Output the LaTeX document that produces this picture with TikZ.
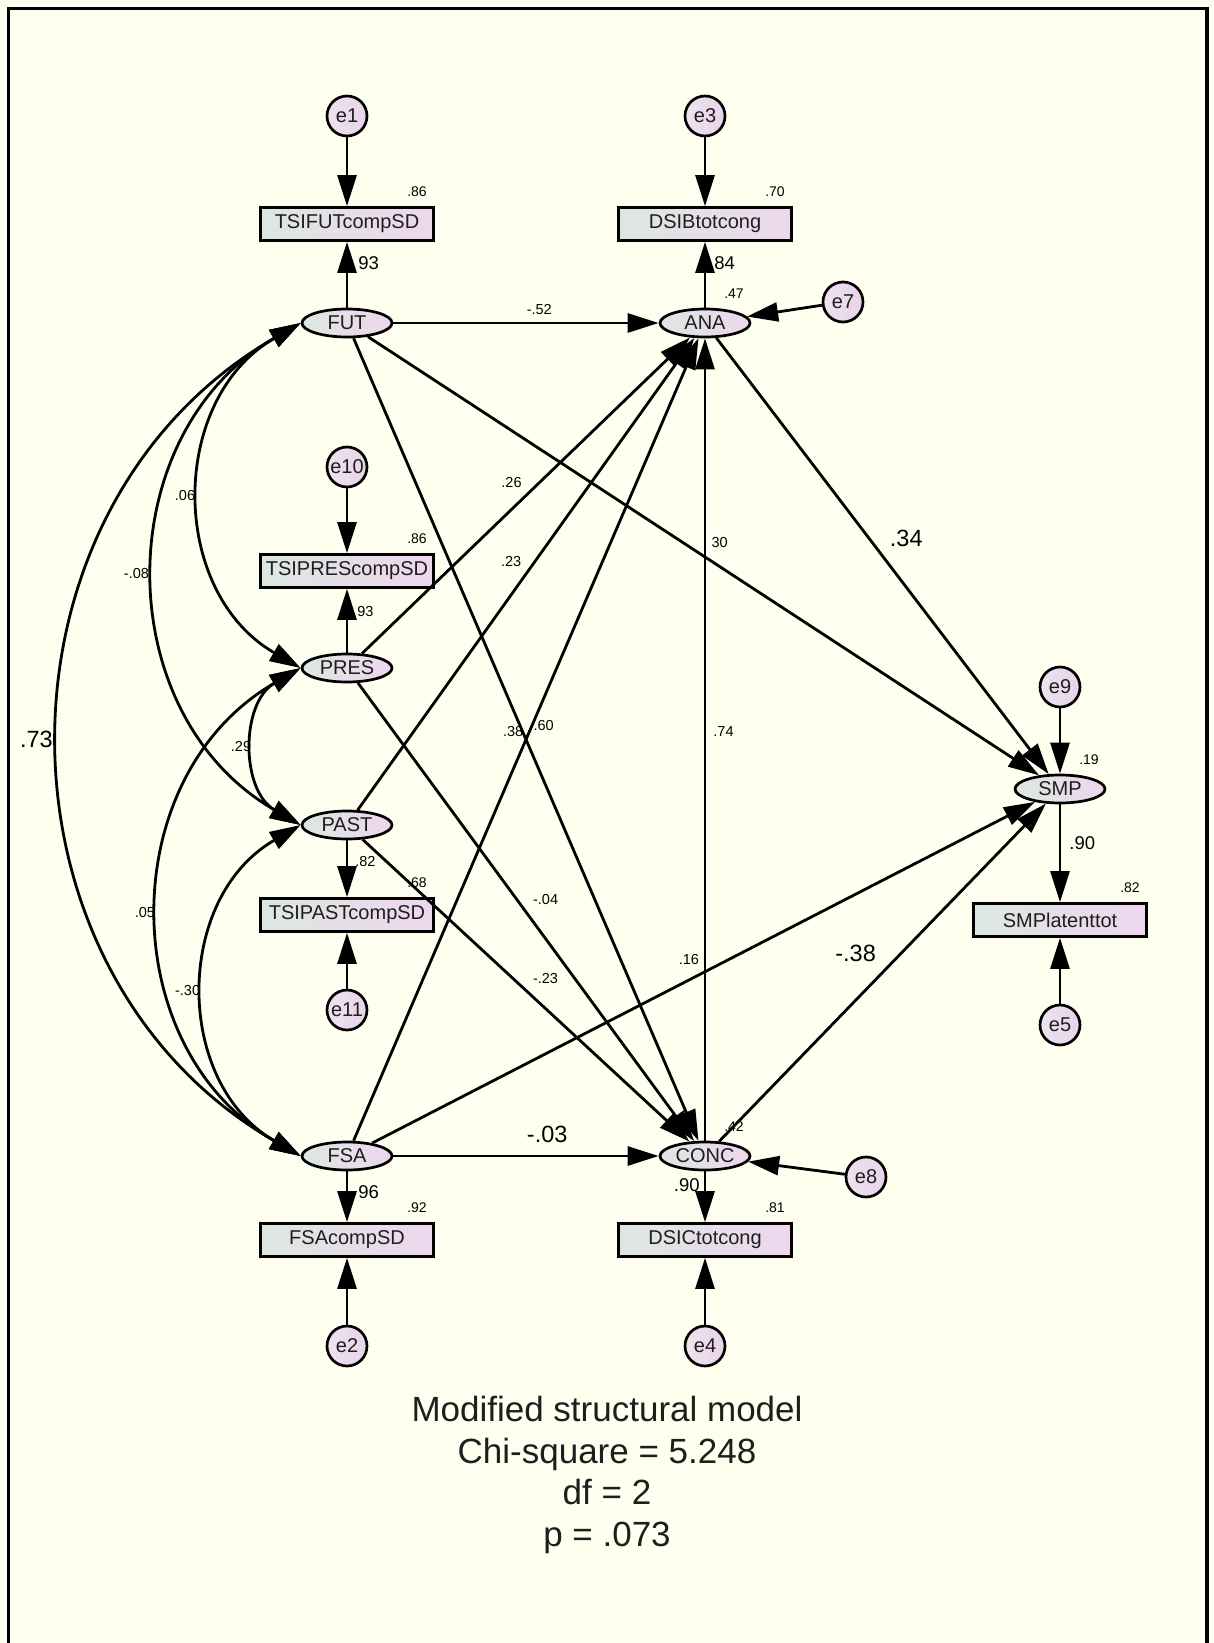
\documentclass[tikz,border=0pt]{standalone}
\usepackage{fontspec}
\setmainfont{Liberation Sans}
\usepackage{tikz}
\usetikzlibrary{positioning,arrows.meta,shapes.geometric}
\usepackage{xcolor}

\definecolor{paper}{RGB}{255,255,240}
\definecolor{boxL}{RGB}{221,231,225}
\definecolor{boxR}{RGB}{238,214,237}
\definecolor{errL}{RGB}{237,227,237}
\definecolor{errR}{RGB}{233,211,233}
\definecolor{ink}{RGB}{30,30,30}

\begin{document}
\begin{tikzpicture}[
  x=1pt, y=-1pt,
  >={Triangle[length=31pt,width=19pt]},
  lat/.style={draw, ellipse, line width=2.7pt, left color=boxL, right color=boxR,
              minimum width=90pt, minimum height=28pt, inner sep=0pt,
              font=\fontsize{20}{24}\selectfont, text=ink},
  obs/.style={draw, rectangle, line width=2.7pt, left color=boxL, right color=boxR,
              minimum width=173pt, minimum height=33pt, inner sep=0pt,
              font=\fontsize{20}{24}\selectfont, text=ink},
  err/.style={draw, circle, line width=2.7pt, left color=errL, right color=errR,
              minimum size=40pt, inner sep=0pt,
              font=\fontsize{20}{24}\selectfont, text=ink},
  arr/.style={->, line width=2.8pt},
  cov/.style={<->, line width=2.8pt, bend right=60, looseness=1.135},
  lbl/.style={font=\fontsize{14.5}{16}\selectfont, inner sep=1pt},
  lblm/.style={font=\fontsize{18.5}{21}\selectfont, inner sep=1pt},
  lblb/.style={font=\fontsize{23.5}{27}\selectfont, inner sep=1pt},
  r2box/.style={font=\fontsize{14}{16}\selectfont, inner sep=1pt, anchor=south,
                xshift=70pt, yshift=8pt},
  r2lat/.style={font=\fontsize{14}{16}\selectfont, inner sep=1pt, anchor=south,
                xshift=29pt, yshift=8pt},
]

\useasboundingbox (0,0) rectangle (1213,1643);
\fill[paper] (0,0) rectangle (1213,1643);
\draw[line width=3.2pt] (8.5,1660) -- (8.5,8.5) -- (1207,8.5) -- (1207,1660);

%% Latent variables
\node[lat] (FUT)  at (347,323)  {FUT};
\node[lat] (PRES) at (347,668)  {PRES};
\node[lat] (PAST) at (347,825)  {PAST};
\node[lat] (FSA)  at (347,1156) {FSA};
\node[lat, label={[r2lat]north:.47}] (ANA)  at (705,323)  {ANA};
\node[lat, label={[r2lat]north:.42}] (CONC) at (705,1156) {CONC};
\node[lat, label={[r2lat]north:.19}] (SMP)  at (1060,789) {SMP};

%% Indicators
\node[obs, label={[r2box]north:.86}] (TSIFUT)  at (347,224)  {TSIFUTcompSD};
\node[obs, label={[r2box]north:.86}] (TSIPRES) at (347,571)  {TSIPREScompSD};
\node[obs, label={[r2box]north:.68}] (TSIPAST) at (347,915)  {TSIPASTcompSD};
\node[obs, label={[r2box]north:.92}] (FSAcomp) at (347,1240) {FSAcompSD};
\node[obs, label={[r2box]north:.70}] (DSIB)    at (705,224)  {DSIBtotcong};
\node[obs, label={[r2box]north:.81}] (DSIC)    at (705,1240) {DSICtotcong};
\node[obs, label={[r2box]north:.82}] (SMPlat)  at (1060,920) {SMPlatenttot};

%% Error terms
\node[err] (e1)  at (347,116)  {e1};
\node[err] (e10) at (347,467)  {e10};
\node[err] (e11) at (347,1010) {e11};
\node[err] (e2)  at (347,1346) {e2};
\node[err] (e3)  at (705,116)  {e3};
\node[err] (e4)  at (705,1346) {e4};
\node[err] (e7)  at (843,302)  {e7};
\node[err] (e8)  at (866,1177) {e8};
\node[err] (e9)  at (1060,687) {e9};
\node[err] (e5)  at (1060,1025) {e5};

%% Measurement part
\draw[arr] (e1) -- (TSIFUT);
\draw[arr] (FUT) -- node[lblm, pos=0.68, right=9pt] {93} (TSIFUT);
\draw[arr] (e10) -- (TSIPRES);
\draw[arr] (PRES) -- node[lbl, pos=0.64, right=8pt] {93} (TSIPRES);
\draw[arr] (PAST) -- node[lbl, pos=0.38, right=6pt] {.82} (TSIPAST);
\draw[arr] (e11) -- (TSIPAST);
\draw[arr] (FSA) -- node[lblm, pos=0.41, right=9pt] {96} (FSAcomp);
\draw[arr] (e2) -- (FSAcomp);
\draw[arr] (e3) -- (DSIB);
\draw[arr] (ANA) -- node[lblm, pos=0.68, right=7pt] {84} (DSIB);
\draw[arr] (CONC) -- node[lblm, pos=0.27, left=3pt] {.90} (DSIC);
\draw[arr] (e4) -- (DSIC);
\draw[arr] (e9) -- (SMP);
\draw[arr] (SMP) -- node[lblm, pos=0.40, right=7pt] {.90} (SMPlat);
\draw[arr] (e5) -- (SMPlat);

% disturbances
\draw[arr] (e7) -- (ANA);
\draw[arr] (e8) -- (CONC);

%% Structural paths
\draw[arr] (FUT) -- node[lbl, pos=0.55, above=6pt] {-.52} (ANA);
\draw[arr] (FUT) -- node[lbl, pos=0.49, left=-3pt] {.38} (CONC);
\draw[arr] (FUT) -- node[lbl, pos=0.507, above right=9pt and 1pt] {30} (SMP);
\draw[arr] (PRES) -- node[lbl, pos=0.497, above left=6pt and 1pt] {.26} (ANA);
\draw[arr] (PRES) -- node[lbl, pos=0.502, above right=6pt and 4pt] {-.04} (CONC);
\draw[arr] (PAST) -- node[lbl, pos=0.502, above left=4pt and 3pt] {.23} (ANA);
\draw[arr] (PAST) -- node[lbl, pos=0.511, above right=8pt and 1pt] {-.23} (CONC);
\draw[arr] (FSA) -- node[lbl, pos=0.518, right=-1pt] {.60} (ANA);
\draw[arr] (FSA) -- node[lblb, pos=0.58, above=11pt] {-.03} (CONC);
\draw[arr] (FSA) -- node[lbl, pos=0.49, above=9pt, xshift=-8pt] {.16} (SMP);
\draw[arr] (CONC) -- node[lbl, pos=0.51, right=6pt] {.74} (ANA);
\draw[arr] (ANA) -- node[lblb, pos=0.50, above right=7pt and 5pt] {.34} (SMP);
\draw[arr] (CONC) -- node[lblb, pos=0.49, above left=12pt and 1pt] {-.38} (SMP);

%% Correlations between the time perspectives
\draw[cov] (FUT.west) to node[lbl, midway, left=4pt] {.06} (PRES.west);
\draw[cov] (FUT.west) to node[lbl, midway, left=5pt] {-.08} (PAST.west);
\draw[cov] (FUT.west) to node[lblb, midway, left=6pt] {.73} (FSA.west);
\draw[cov] (PRES.west) to node[lbl, midway, left=2pt] {.29} (PAST.west);
\draw[cov] (PRES.west) to node[lbl, midway, left=3pt] {.05} (FSA.west);
\draw[cov] (PAST.west) to node[lbl, midway, left=3pt] {-.30} (FSA.west);

%% Fit summary
\node[font=\fontsize{35}{41.7}\selectfont, align=center, anchor=north,
      inner sep=0pt, text=ink] (fit) at (607,1396)
  {Modified structural model\\Chi-square = 5.248\\df = 2\\p = .073};

\end{tikzpicture}
\end{document}
